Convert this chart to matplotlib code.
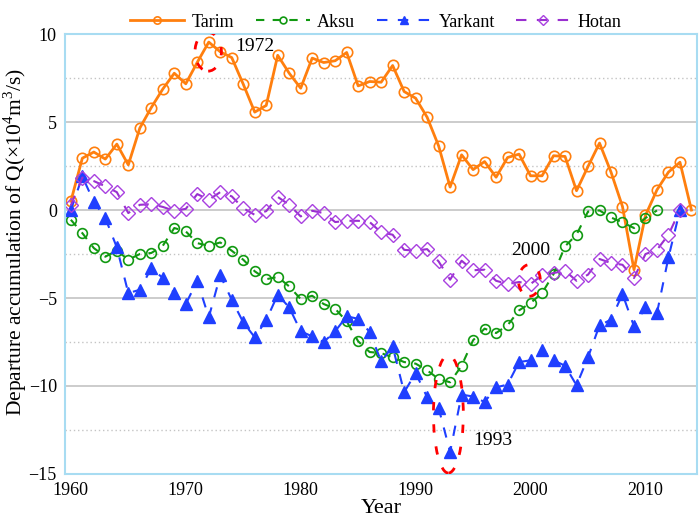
import numpy as np
import matplotlib
matplotlib.use("Agg")
import matplotlib.pyplot as plt
from matplotlib.patches import Ellipse

plt.rcParams['font.family'] = ['Liberation Serif', 'DejaVu Serif']
plt.rcParams['mathtext.fontset'] = 'custom'
plt.rcParams['mathtext.rm'] = 'Liberation Serif'

# cumulative departure of runoff
tarim_years = list(range(1960, 2015))
tarim = [0.5, 2.95, 3.3, 2.9, 3.75, 2.57, 4.66, 5.83, 6.88, 7.78,
         7.18, 8.4, 9.55, 9.0, 8.67, 7.16, 5.57, 5.95, 8.8, 7.78,
         6.93, 8.64, 8.39, 8.49, 8.96, 7.06, 7.31, 7.27, 8.22, 6.74,
         6.36, 5.28, 3.65, 1.31, 3.14, 2.3, 2.76, 1.87, 2.99, 3.18,
         1.95, 1.95, 3.09, 3.05, 1.1, 2.48, 3.81, 2.16, 0.2, -3.39,
         -0.3, 1.15, 2.16, 2.72, 0.0]

aksu_years = list(range(1960, 2012))
aksu = [-0.55, -1.31, -2.16, -2.65, -2.3, -2.82, -2.5, -2.44, -2.03, -1.02,
        -1.21, -1.88, -2.03, -1.84, -2.31, -2.82, -3.48, -3.93, -3.8, -4.34,
        -5.06, -4.87, -5.34, -5.61, -6.33, -7.46, -8.07, -8.13, -8.37, -8.64,
        -8.73, -9.11, -9.6, -9.79, -8.85, -7.4, -6.74, -6.99, -6.55, -5.7,
        -5.28, -4.72, -3.64, -2.06, -1.4, -0.08, -0.02, -0.42, -0.7, -1.02,
        -0.45, -0.02]

yarkant_years = list(range(1960, 2014))
yarkant = [0.0, 1.91, 0.47, -0.45, -2.12, -4.72, -4.53, -3.3, -3.86, -4.72,
           -5.34, -4.02, -6.1, -3.71, -5.1, -6.38, -7.23, -6.26, -4.81, -5.53,
           -6.89, -7.18, -7.5, -6.89, -6.04, -6.18, -6.93, -8.6, -7.75, -10.36,
           -9.26, -10.64, -11.25, -13.75, -10.49, -10.6, -10.91, -10.08, -9.92, -8.64,
           -8.54, -7.94, -8.54, -8.85, -9.96, -8.37, -6.55, -6.23, -4.77, -6.61,
           -5.53, -5.85, -2.69, 0.0]

hotan_years = list(range(1960, 2014))
hotan = [0.27, 1.85, 1.65, 1.35, 1.02, -0.17, 0.3, 0.34, 0.18, -0.04,
         0.07, 0.91, 0.59, 1.02, 0.78, 0.11, -0.27, -0.06, 0.75, 0.3,
         -0.36, -0.04, -0.17, -0.68, -0.61, -0.61, -0.68, -1.27, -1.4, -2.26,
         -2.31, -2.22, -2.92, -3.96, -2.88, -3.42, -3.39, -4.02, -4.2, -4.09,
         -4.2, -3.71, -3.58, -3.45, -4.02, -3.67, -2.78, -3.01, -3.11, -3.86,
         -2.5, -2.26, -1.4, 0.0]

# highlighted years: (label, ellipse centre x, y, width, height, text x, text y)
marks = [("1972", 1971.95, 9.0, 2.3, 2.2, 1976.0, 9.3),
         ("1993", 1992.85, -11.6, 2.6, 6.7, 1996.7, -13.1),
         ("2000", 1999.9, -4.0, 1.9, 1.8, 1999.97, -2.3)]

fig = plt.figure(figsize=(7, 5.26), dpi=100)
ax = fig.add_axes([0.093, 0.099, 0.903, 0.836])

ax.plot(tarim_years, tarim, color='#ff7f0e', lw=2, marker='o', ms=7.5,
        mfc='none', mec='#ff7f0e', mew=1.2, label='Tarim')
ax.plot(aksu_years, aksu, color='#119911', lw=1.5, ls=(0, (4, 4)), marker='o',
        ms=7, mfc='none', mec='#119911', mew=1.2, label='Aksu')
ax.plot(yarkant_years, yarkant, color='#1f3fff', lw=1.5, ls=(0, (5, 5)),
        marker='^', ms=9, mfc='#1f3fff', mec='#1f3fff', label='Yarkant')
ax.plot(hotan_years, hotan, color='#9a2fd0', lw=1.5, ls=(0, (5, 5)),
        marker='D', ms=7.5, mfc='none', mec='#a840e0', mew=1.0, label='Hotan')

for txt, cx, cy, w, h, tx, ty in marks:
    ax.add_patch(Ellipse((cx, cy), w, h, fill=False, ec='red', lw=2,
                         ls=(0, (3, 5)), zorder=5))
    ax.text(tx, ty, txt, fontsize=14, ha='center', va='center', zorder=6)

ax.set_xlim(1959.5, 2014.5)
ax.set_ylim(-15, 10)
ax.set_xticks(range(1960, 2011, 10))
ax.set_yticks(range(-15, 11, 5))
ax.set_yticks(np.arange(-12.5, 10, 5), minor=True)
ax.tick_params(axis='both', which='both', length=0, labelsize=13, pad=6)
ax.grid(axis='y', which='major', color='#c4c4c4', lw=1.2, ls='-')
ax.grid(axis='y', which='minor', color='#c4c4c4', lw=1, ls=(0, (1, 2)))
ax.set_axisbelow(True)
for s in ax.spines.values():
    s.set_color('#a8dcf2')
    s.set_linewidth(1.5)

ax.set_xlabel('Year', fontsize=16, labelpad=0)
fig.text(0.022, 0.54, 'Departure accumulation of Q(×10$^{4}$m$^{3}$/s)',
         fontsize=15.5, rotation=90, ha='center', va='center')

fig.legend(loc='upper center', bbox_to_anchor=(0.537, 1.005), ncol=4,
           frameon=False, fontsize=13, handlelength=3, columnspacing=1.2,
           handletextpad=0.4, markerscale=0.7)

plt.savefig('out.png', dpi=100)
